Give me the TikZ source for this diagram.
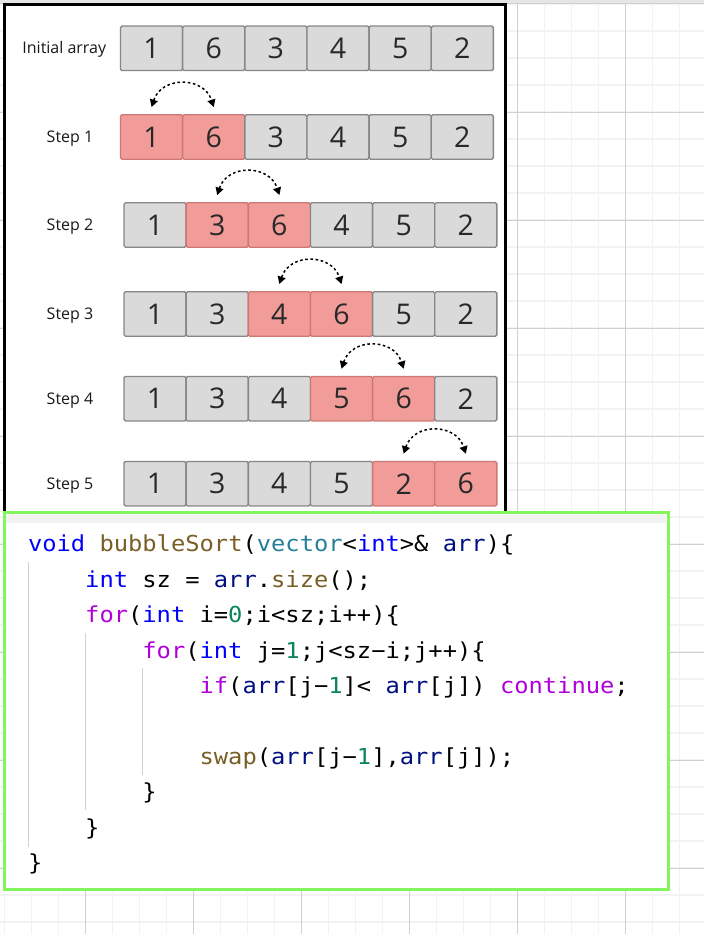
\documentclass[tikz,border=0pt]{standalone}
\usepackage{fontspec}
\setmainfont{Open Sans}
\newfontfamily\codefont[FakeStretch=1.08]{DejaVu Sans Mono}
\usetikzlibrary{arrows.meta,calc}
\definecolor{cellgray}{RGB}{218,218,218}
\definecolor{cellgrayline}{RGB}{135,135,135}
\definecolor{cellred}{RGB}{241,156,153}
\definecolor{cellredline}{RGB}{205,120,116}
\definecolor{digit}{RGB}{40,40,40}
\definecolor{gridminor}{RGB}{243,243,243}
\definecolor{gridmajor}{RGB}{208,208,208}
\definecolor{codegreen}{RGB}{130,246,92}
\definecolor{ckw}{RGB}{0,0,255}
\definecolor{cfn}{RGB}{121,94,38}
\definecolor{cty}{RGB}{38,127,153}
\definecolor{cvar}{RGB}{0,16,128}
\definecolor{cctl}{RGB}{175,0,219}
\definecolor{cnum}{RGB}{9,134,88}
\definecolor{guidegray}{RGB}{208,208,208}
\newcommand\ckw[1]{\textcolor{ckw}{#1}}
\newcommand\cfn[1]{\textcolor{cfn}{#1}}
\newcommand\cty[1]{\textcolor{cty}{#1}}
\newcommand\cvar[1]{\textcolor{cvar}{#1}}
\newcommand\cctl[1]{\textcolor{cctl}{#1}}
\newcommand\cnum[1]{\textcolor{cnum}{#1}}
\begin{document}
\begin{tikzpicture}[x=1pt,y=-1pt,
  cellbase/.style={rectangle,rounded corners=1.5pt,minimum width=62.15pt,minimum height=44.5pt,inner sep=0pt,line width=1.4pt,text=digit,font=\fontsize{28.5}{30}\selectfont},
  graycell/.style={cellbase,fill=cellgray,draw=cellgrayline},
  redcell/.style={cellbase,fill=cellred,draw=cellredline},
  lbl/.style={font=\fontsize{16}{18}\selectfont,text=black!90,inner sep=0pt,anchor=base},
  swaparrow/.style={line width=1.5pt,dash pattern=on 2.6pt off 2.6pt,{Triangle[length=7.5pt,width=8pt]}-{Triangle[length=7.5pt,width=8pt]}},
  codeline/.style={anchor=base west,inner sep=0pt,font=\codefont\fontsize{22}{24}\selectfont},
  guide/.style={draw=guidegray,line width=1pt}]
\useasboundingbox (0,0) rectangle (704,934);
\fill[white] (0,0) rectangle (704,934);
% grid
\foreach \k in {0,...,26} {\draw[gridminor,line width=1.3pt] ({4.7+27*\k},0) -- ({4.7+27*\k},934);}
\foreach \k in {0,...,34} {\draw[gridminor,line width=1.3pt] (0,{4+27*\k}) -- (704,{4+27*\k});}
\foreach \k in {0,...,6} {\draw[gridmajor,line width=1pt] ({85.7+108*\k},0) -- ({85.7+108*\k},934);}
\foreach \k in {0,...,8} {\draw[gridmajor,line width=1pt] (0,{4+108*\k}) -- (704,{4+108*\k});}
\fill[black!10] (0,0) rectangle (704,3);
% black frame
\draw[line width=3pt,fill=white] (4.4,4.6) rectangle (505,512);
% arrays
\foreach \r/\xo/\yc/\ra/\vals in {0/120.5/48.3/0/{1,6,3,4,5,2},1/120.5/137/1/{1,6,3,4,5,2},2/124/225/2/{1,3,6,4,5,2},3/124/314/3/{1,3,4,6,5,2},4/124/398.7/4/{1,3,4,5,6,2},5/124/483.7/5/{1,3,4,5,2,6}}{
  \foreach \v [count=\c] in \vals {
    \pgfmathsetmacro\cx{\xo+(\c-0.5)*62.15}
    \pgfmathtruncatemacro\isred{(\ra>0)&&((\c==\ra)||(\c==\ra+1))}
    \ifnum\isred=1 \def\cst{redcell}\else\def\cst{graycell}\fi
    \node[\cst] (r\r c\c) at (\cx,\yc) {\v};
  }
}
% labels
\node[lbl] (l0) at (64.3,54) {Initial array};
\foreach \r/\yc in {1/137,2/225,3/314,4/398.7,5/483.7}{
  \node[lbl] (l\r) at (70,\yc+5.7) {Step \r};
}
% swap arrows
\foreach \r in {1,...,5}{
  \pgfmathtruncatemacro\rb{\r+1}
  \coordinate (a\r) at ($(r\r c\r.north)+(0,-7)$);
  \coordinate (b\r) at ($(r\r c\rb.north)+(0,-7)$);
  \draw[swaparrow] (a\r) .. controls +(10,-31) and +(-10,-31) .. (b\r);
}
% code box
\draw[codegreen,line width=3pt,fill=white] (4.5,512) rectangle (668,889);
\fill[black!5] (6.2,515) rectangle (666.3,523);
% indent guides
\draw[guide] (28.5,561.7) -- (28.5,846.7);
\draw[guide] (85.5,633) -- (85.5,810);
\draw[guide] (142.8,668) -- (142.8,775);
% code
\def\cw{14.3}
\def\cx{27.8}
\node[codeline] (code1) at (\cx,551.7) {\ckw{void} \cfn{bubbleSort}(\cty{vector}<\ckw{int}>\& \cvar{arr})\{};
\node[codeline] (code2) at ({\cx+4*\cw},587.2) {\ckw{int} sz = \cvar{arr}.\cfn{size}();};
\node[codeline] (code3) at ({\cx+4*\cw},622.7) {\cctl{for}(\ckw{int} i=\cnum{0};i<sz;i++)\{};
\node[codeline] (code4) at ({\cx+8*\cw},658.1) {\cctl{for}(\ckw{int} j=\cnum{1};j<sz−i;j++)\{};
\node[codeline] (code5) at ({\cx+12*\cw},693.5) {\cctl{if}(\cvar{arr}[j−\cnum{1}]< \cvar{arr}[j]) \cctl{continue};};
\node[codeline] (code7) at ({\cx+12*\cw},764.4) {\cfn{swap}(\cvar{arr}[j−\cnum{1}],\cvar{arr}[j]);};
\node[codeline] (code8) at ({\cx+8*\cw},799.8) {\}};
\node[codeline] (code9) at ({\cx+4*\cw},835.3) {\}};
\node[codeline] (code10) at (\cx,870.8) {\}};
\end{tikzpicture}
\end{document}
